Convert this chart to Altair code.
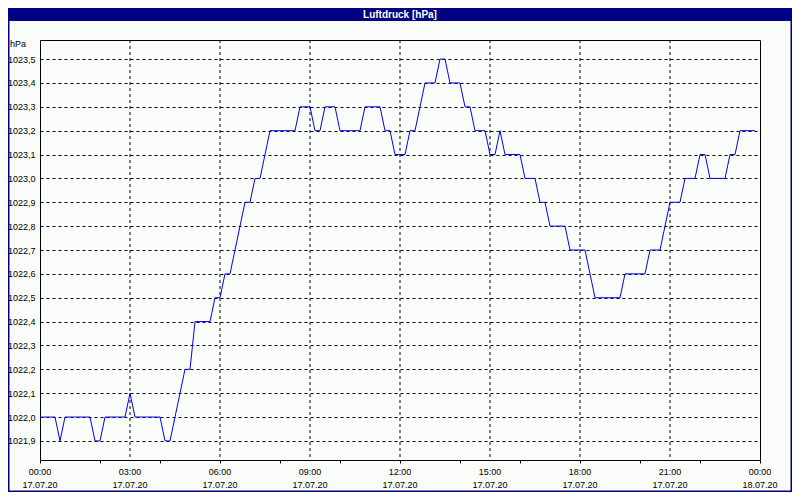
import altair as alt
import pandas as pd

# ---- data (10-minute readings, 17.07.20 00:00 .. 23:50) ----
pressure_hpa = (
    [1022.0] * 4 + [1021.9] + [1022.0] * 6 + [1021.9] * 2 + [1022.0] * 5 + [1022.1]
    + [1022.0] * 6 + [1021.9] * 2 + [1022.0] + [1022.1] + [1022.2] * 2 + [1022.4] * 4
    + [1022.5] * 2 + [1022.6] * 2 + [1022.7] + [1022.8] + [1022.9] * 2 + [1023.0] * 2
    + [1023.1] + [1023.2] * 6 + [1023.3] * 3 + [1023.2] * 2 + [1023.3] * 3 + [1023.2] * 5
    + [1023.3] * 4 + [1023.2] * 2 + [1023.1] * 3 + [1023.2] * 2 + [1023.3] + [1023.4] * 3
    + [1023.5] * 2 + [1023.4] * 3 + [1023.3] * 2 + [1023.2] * 3 + [1023.1] * 2 + [1023.2]
    + [1023.1] * 4 + [1023.0] * 3 + [1022.9] * 2 + [1022.8] * 4 + [1022.7] * 4 + [1022.6]
    + [1022.5] * 6 + [1022.6] * 5 + [1022.7] * 3 + [1022.8] + [1022.9] * 3 + [1023.0] * 3
    + [1023.1] * 2 + [1023.0] * 4 + [1023.1] * 2 + [1023.2] * 4
)
hours = [i / 6 for i in range(len(pressure_hpa))]

x_label_hours = [0, 3, 6, 9, 12, 15, 18, 21, 24]
x_tick_times = ["00:00", "03:00", "06:00", "09:00", "12:00", "15:00", "18:00", "21:00", "00:00"]
x_tick_dates = ["17.07.20"] * 8 + ["18.07.20"]
x_minor_hours = list(range(0, 25))
x_grid_hours = [3, 6, 9, 12, 15, 18, 21]
y_ticks = [round(1021.9 + 0.1 * k, 1) for k in range(17)]
title_text = "Luftdruck [hPa]"
unit_text = "hPa"

FONT = "Liberation Sans"
NAVY = "#000080"

df = pd.DataFrame({"h": hours, "p": pressure_hpa})
labels_df = pd.DataFrame({"h": x_label_hours, "t": x_tick_times, "d": x_tick_dates})
one = pd.DataFrame({"a": [0]})

xscale = alt.Scale(domain=[0, 24], nice=False, zero=False)
yscale = alt.Scale(domain=[1021.82, 1023.58], nice=False, zero=False)

line = alt.Chart(df).mark_line(color="#0000ff", strokeWidth=1).encode(
    x=alt.X("h:Q", scale=xscale, axis=alt.Axis(
        values=x_minor_hours, labels=False, title=None, grid=False,
        domain=False, tickSize=3, tickColor="black")),
    y=alt.Y("p:Q", scale=yscale, axis=alt.Axis(
        values=y_ticks, labelExpr="replace(format(datum.value, '.1f'), '.', ',')",
        title=None, grid=True, gridDash=[3, 3], gridColor="black", gridOpacity=1,
        domain=False, ticks=False, labelPadding=5, labelFont=FONT, labelFontSize=9,
        labelColor="black", labelOverlap=False, labelFlush=False, labelBound=False)),
)

vgrid = alt.Chart(pd.DataFrame({"h": x_grid_hours})).mark_rule(
    color="black", strokeWidth=1, strokeDash=[3, 3]
).encode(x=alt.X("h:Q", scale=xscale), y=alt.value(0), y2=alt.value(420))

xtime = alt.Chart(labels_df).mark_text(
    color="black", font=FONT, fontSize=9, align="center", baseline="middle"
).encode(x=alt.X("h:Q", scale=xscale), y=alt.value(432), text="t:N")

xdate = alt.Chart(labels_df).mark_text(
    color="black", font=FONT, fontSize=9, align="center", baseline="middle"
).encode(x=alt.X("h:Q", scale=xscale), y=alt.value(445), text="d:N")

bar = alt.Chart(one).mark_rect(color=NAVY).encode(
    x=alt.value(-32), x2=alt.value(752), y=alt.value(-32), y2=alt.value(-19))

frame = alt.Chart(one).mark_rect(fillOpacity=0, stroke=NAVY, strokeWidth=1.5).encode(
    x=alt.value(-31.25), x2=alt.value(751.25), y=alt.value(-31.25), y2=alt.value(451.25))

title = alt.Chart(one).mark_text(
    text=title_text, color="white", font=FONT, fontSize=10, fontWeight="bold",
    align="center", baseline="middle"
).encode(x=alt.value(360), y=alt.value(-25.5))

unit = alt.Chart(one).mark_text(
    text=unit_text, color="black", font=FONT, fontSize=9, align="center", baseline="middle"
).encode(x=alt.value(-22), y=alt.value(4))

chart = alt.layer(vgrid, line, xtime, xdate, bar, frame, title, unit).properties(
    width=720, height=420,
    padding={"left": 32, "top": 32, "right": 32, "bottom": 32},
    autosize=alt.AutoSizeParams(type="none"),
    background="#fafdfa",
).configure_view(stroke="black", strokeWidth=1)

chart.save("out.html", embed_options={"renderer": "svg", "actions": False})
